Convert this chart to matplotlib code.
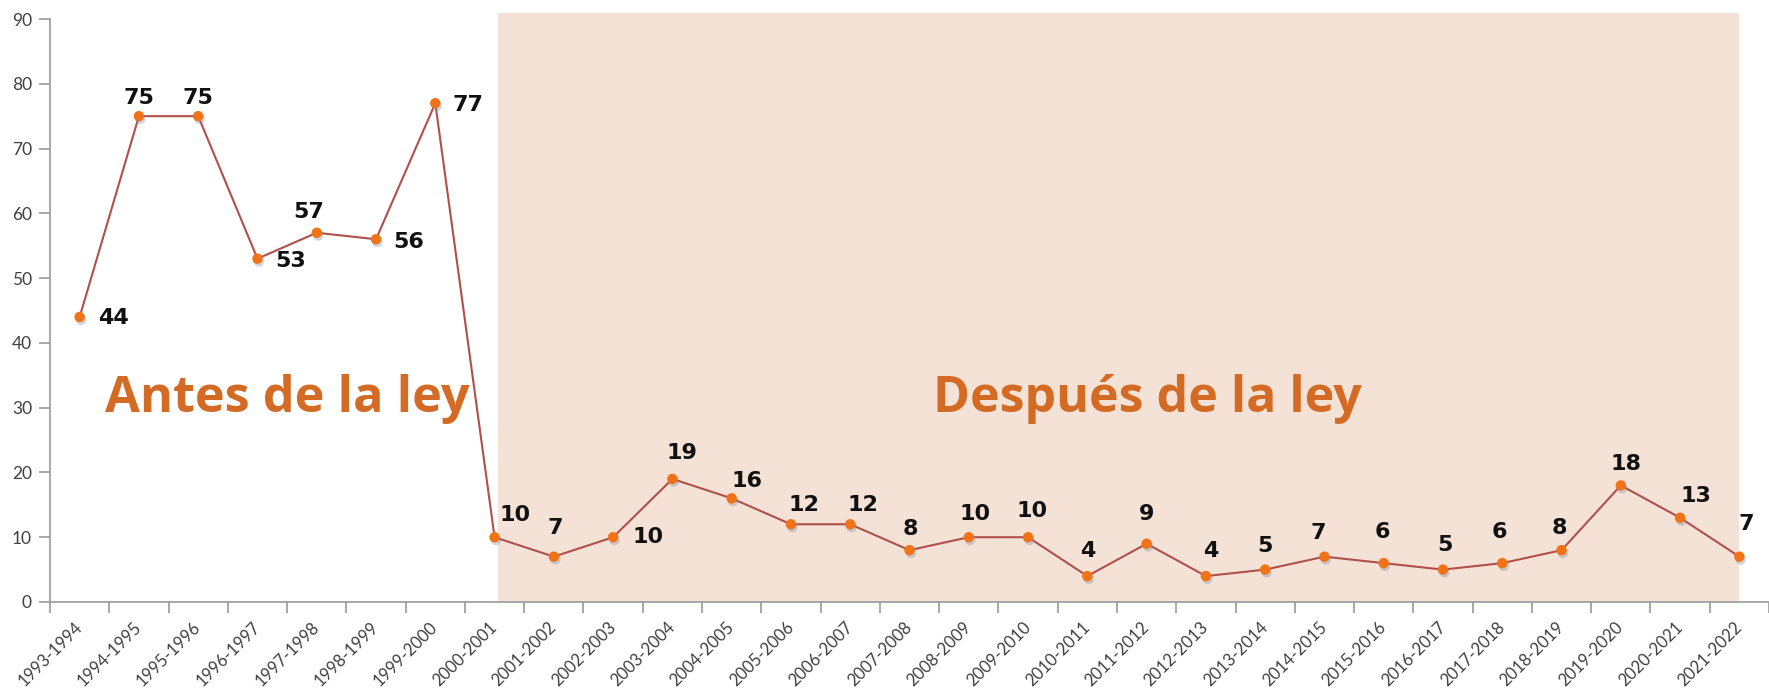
import matplotlib
matplotlib.use("Agg")
import matplotlib.pyplot as plt
import matplotlib.patheffects as pe
from matplotlib.patches import Rectangle
from matplotlib.ticker import FixedLocator

# Data
seasons = ["1993-1994", "1994-1995", "1995-1996", "1996-1997", "1997-1998",
           "1998-1999", "1999-2000", "2000-2001", "2001-2002", "2002-2003",
           "2003-2004", "2004-2005", "2005-2006", "2006-2007", "2007-2008",
           "2008-2009", "2009-2010", "2010-2011", "2011-2012", "2012-2013",
           "2013-2014", "2014-2015", "2015-2016", "2016-2017", "2017-2018",
           "2018-2019", "2019-2020", "2020-2021", "2021-2022"]
values = [44, 75, 75, 53, 57, 56, 77, 10, 7, 10, 19, 16, 12, 12, 8, 10, 10,
          4, 9, 4, 5, 7, 6, 5, 6, 8, 18, 13, 7]
yticks = [0, 10, 20, 30, 40, 50, 60, 70, 80, 90]
period_labels = ["Antes de la ley", "Después de la ley"]

# label offsets in pixels (dx, dy)
label_offsets = [(34, -1), (0, 18), (0, 18), (33, -2), (-8, 21), (33, -3),
                 (33, -2), (20, 22), (1, 29), (35, 0), (10, 26), (15, 17),
                 (13, 19), (13, 19), (1, 21), (6, 23), (4, 26), (0, 25),
                 (0, 30), (5, 25), (0, 24), (-6, 24), (-1, 31), (2, 25),
                 (-3, 31), (-2, 22), (5, 21), (16, 22), (7, 33)]

W, H = 1769, 692
fig = plt.figure(figsize=(W / 100, H / 100), dpi=100)
ax = fig.add_axes([50 / W, 90 / H, 1 - 50 / W, (602 - 19) / H])

x = list(range(len(values)))

# shaded "after" zone
ax.add_patch(Rectangle((7.06, 0), 28 - 7.06, 90.9, fc="#F5E2D6", ec="none",
                       zorder=0, clip_on=False))

ax.plot(x, values, color="#B0504C", lw=1.5, zorder=2)
ax.plot(x, values, "o", color="#F07318", ms=7.5, zorder=3, mec="none",
        path_effects=[pe.SimplePatchShadow(offset=(1, -2), shadow_rgbFace="#7a8aa0", alpha=0.35),
                      pe.Normal()])

for i, v in enumerate(values):
    dx, dy = label_offsets[i]
    ax.annotate(str(v), (i, v), xytext=(dx, dy), textcoords="offset pixels",
                ha="center", va="center", fontsize=16, fontweight="bold",
                family="DejaVu Sans", color="#111111", zorder=4)

# big period labels, placed in pixels and sized to the reference width
renderer = fig.canvas.get_renderer()
for txt, x0, x1 in [(period_labels[0], 105, 470), (period_labels[1], 933, 1363)]:
    t = fig.text(x0 / W, (H - 412) / H, txt, fontsize=32, fontweight="bold",
                 family="Open Sans", color="#D36B24", ha="left", va="baseline")
    w = t.get_window_extent(renderer).width
    t.set_fontsize(32 * (x1 - x0) / w)

ax.set_xlim(-0.5, 28.5)
ax.set_ylim(0, 90)
ax.set_yticks(yticks)
ax.set_xticks(x)
ax.set_xticklabels(seasons)
ax.xaxis.set_minor_locator(FixedLocator([i - 0.5 for i in range(len(values) + 1)]))
ax.tick_params(axis="x", which="major", length=0, pad=16)
ax.tick_params(axis="x", which="minor", length=8, color="#999999", width=1.2)
ax.tick_params(axis="y", length=8, color="#999999", width=1.2, pad=5,
               labelsize=12.5, labelcolor="#404040")
plt.setp(ax.get_xticklabels(), rotation=45, ha="right", va="center",
         rotation_mode="anchor", family="Lato", fontsize=12, color="#404040")
plt.setp(ax.get_yticklabels(), family="Lato")

for s in ["top", "right"]:
    ax.spines[s].set_visible(False)
for s in ["left", "bottom"]:
    ax.spines[s].set_color("#999999")
    ax.spines[s].set_linewidth(1.2)
ax.set_facecolor("none")

fig.savefig("out.png", dpi=100)
